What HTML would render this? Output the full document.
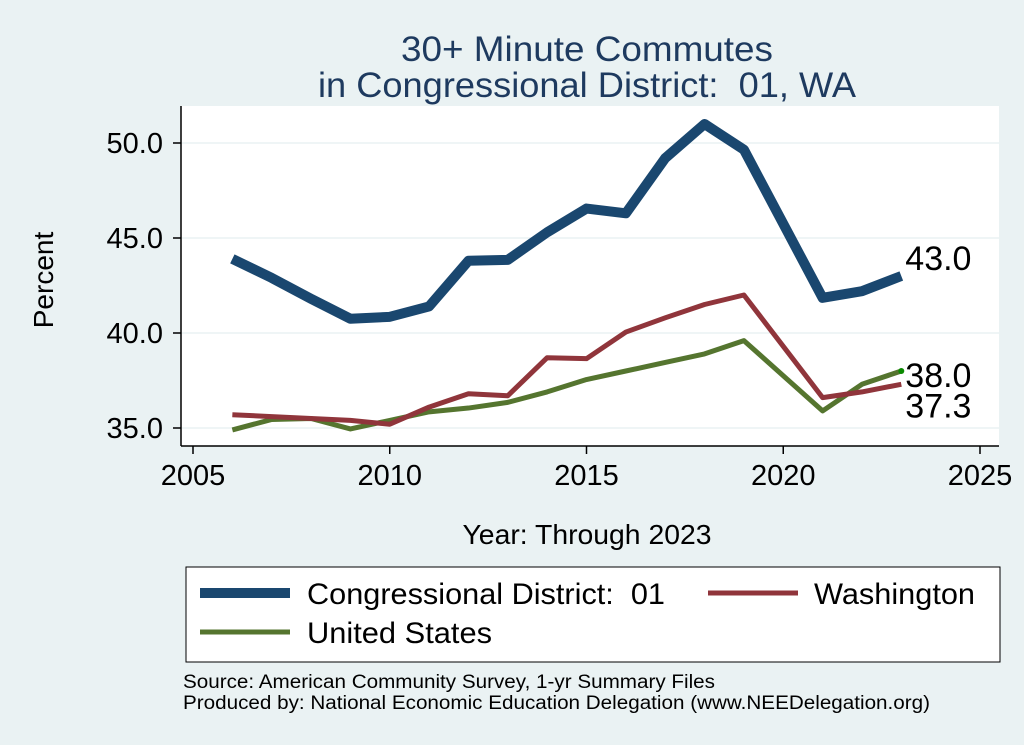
<!DOCTYPE html>
<html><head><meta charset="utf-8"><style>
body{margin:0;background:#eaf2f3;}
svg{display:block;font-family:"Liberation Sans",Arial,sans-serif;}
</style></head><body>
<svg id="chart" width="1024" height="745">
<rect x="0" y="0" width="1024" height="745" fill="#eaf2f3"/>
<text x="587" y="61" font-size="35" text-anchor="middle" fill="#1e3a5f" textLength="372" lengthAdjust="spacingAndGlyphs">30+ Minute Commutes</text>
<text x="587" y="97" font-size="35" text-anchor="middle" fill="#1e3a5f" textLength="538" lengthAdjust="spacingAndGlyphs" xml:space="preserve">in Congressional District:  01, WA</text>
<rect x="181" y="106" width="818" height="340" fill="#fff"/>
<g id="grid"></g><g id="axes"></g><g id="series"></g>
<text x="53" y="280" font-size="28" text-anchor="middle" transform="rotate(-90 53 280)">Percent</text>
<text x="587" y="544" font-size="28" text-anchor="middle" textLength="249" lengthAdjust="spacingAndGlyphs">Year: Through 2023</text>
<g>
<rect x="186" y="567" width="814" height="95" fill="#fff" stroke="#000" stroke-width="1"/>
<g><line x1="200" y1="593" x2="290" y2="593" stroke="#1a476f" stroke-width="10"/><text x="307" y="604" font-size="30" textLength="358" lengthAdjust="spacingAndGlyphs" xml:space="preserve">Congressional District:  01</text></g>
<g><line x1="708" y1="593" x2="798" y2="593" stroke="#90353b" stroke-width="5"/><text x="814" y="604" font-size="30" textLength="161" lengthAdjust="spacingAndGlyphs">Washington</text></g>
<g><line x1="200" y1="632" x2="290" y2="632" stroke="#55752f" stroke-width="5"/><text x="307" y="643" font-size="30" textLength="185" lengthAdjust="spacingAndGlyphs">United States</text></g>
</g>
<text x="183" y="688" font-size="19" textLength="532" lengthAdjust="spacingAndGlyphs">Source: American Community Survey, 1-yr Summary Files</text>
<text x="183" y="709" font-size="19" textLength="747" lengthAdjust="spacingAndGlyphs">Produced by: National Economic Education Delegation (www.NEEDelegation.org)</text>
</svg>
<script>
const years=[2006,2007,2008,2009,2010,2011,2012,2013,2014,2015,2016,2017,2018,2019,2021,2022,2023];
const district=[43.9,42.9,41.8,40.75,40.85,41.4,43.8,43.85,45.3,46.55,46.3,49.2,51.0,49.65,41.85,42.2,43.0];
const washington=[35.7,35.6,35.5,35.4,35.2,36.1,36.8,36.7,38.7,38.65,40.05,40.8,41.5,42.0,36.6,36.9,37.3];
const us=[34.9,35.45,35.5,34.95,35.4,35.85,36.05,36.35,36.9,37.55,38.0,38.45,38.9,39.6,35.9,37.3,38.0];
const xTicks=[2005,2010,2015,2020,2025];
const yTicks=[35,40,45,50];
const yTickLabels=["35.0","40.0","45.0","50.0"];
const NS="http://www.w3.org/2000/svg";
const xs=v=>193+(v-2005)*(980-193)/20;
const ys=v=>428-(v-35)*(428-143)/15;
function mk(tag,attrs,parent){const e=document.createElementNS(NS,tag);for(const k in attrs)e.setAttribute(k,attrs[k]);parent.appendChild(e);return e;}
const grid=document.getElementById('grid'),axes=document.getElementById('axes'),ser=document.getElementById('series');
yTicks.forEach((t,i)=>{
 const g=mk('line',{x1:181,x2:999,y1:ys(t),y2:ys(t),stroke:'#eaf2f3','stroke-width':1.5},grid);
 
 
 mk('line',{x1:173,x2:181,y1:ys(t),y2:ys(t),stroke:'#000','stroke-width':1.5},axes);
 const tx=mk('text',{x:163,y:ys(t)+10,'font-size':29,'text-anchor':'end'},axes);tx.textContent=yTickLabels[i];
 
 
});
mk('line',{x1:181,x2:181,y1:106,y2:446,stroke:'#000','stroke-width':1.5},axes);
mk('line',{x1:181,x2:999,y1:446,y2:446,stroke:'#000','stroke-width':1.5},axes);
xTicks.forEach(t=>{
 mk('line',{x1:xs(t),x2:xs(t),y1:446,y2:454,stroke:'#000','stroke-width':1.5},axes);
 const tx=mk('text',{x:xs(t),y:485,'font-size':29,'text-anchor':'middle'},axes);tx.textContent=t;
 
 
});
function line(vals,color,w,name){
 const p=mk('polyline',{points:vals.map((v,i)=>xs(years[i])+','+ys(v)).join(' '),fill:'none',stroke:color,'stroke-width':w,'stroke-linejoin':'round'},ser);
 
 
}
line(us,'#55752f',5,'us-line');
line(washington,'#90353b',5,'washington-line');
line(district,'#1a476f',10,'district-line');
const last=years.length-1;
mk('circle',{cx:xs(years[last]),cy:ys(us[last]),r:3,fill:'#0a8a00'},ser);
function lab(v,dy,name){const t=mk('text',{x:xs(years[last])+4,y:ys(v)+dy,'font-size':34},ser);t.textContent=v.toFixed(1);
 
 }
lab(district[last],-6,'district-end-label');
lab(us[last],16,'us-end-label');
lab(washington[last],33,'washington-end-label');
</script>
</body></html>
